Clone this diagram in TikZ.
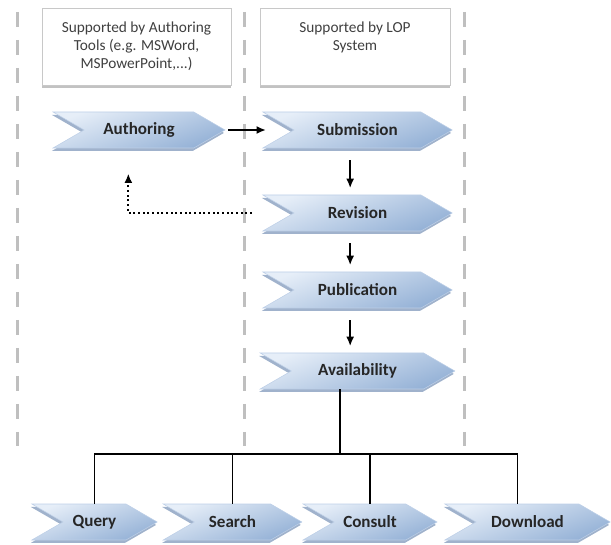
\documentclass[tikz,border=0pt]{standalone}
\usepackage{fontspec}
\setmainfont{Carlito}
\usetikzlibrary{shapes.symbols,shadows,positioning,arrows.meta}
\definecolor{chevlight}{RGB}{230,238,248}
\definecolor{chevdark}{RGB}{148,177,214}
\definecolor{chevshade}{RGB}{120,146,182}
\definecolor{laneline}{RGB}{191,191,191}
\definecolor{boxline}{RGB}{200,200,200}

\begin{document}
\begin{tikzpicture}[x=0.75pt,y=0.75pt,yscale=-1,xscale=1,
  chevron/.style={signal, signal to=east, signal from=west, signal pointer angle=60,
    minimum height=27pt, inner sep=0pt, top color=chevlight, bottom color=chevdark,
    shading angle=20, draw=chevlight!50!chevdark, line width=0.4pt,
    drop shadow={shadow xshift=-0.8pt, shadow yshift=-2.2pt, fill=chevshade, opacity=0.7},
    font=\fontsize{12.8}{15}\selectfont\bfseries, text=black!85},
  toolbox/.style={rectangle, draw=boxline, fill=white, minimum width=141.75pt, minimum height=57.75pt,
    drop shadow={shadow xshift=0pt, shadow yshift=-2.5pt, fill=black!40, opacity=0.6}},
  boxtext/.style={align=center, inner sep=0pt, font=\fontsize{11.5}{13.5}\selectfont, text=black!75},
  lane/.style={draw=laneline, line width=2.25pt, dash pattern=on 11.25pt off 9.75pt},
  flow/.style={-{Latex[length=7pt,width=6pt]}, line width=1.2pt, shorten <=9pt, shorten >=5pt},
  feedback/.style={-{Latex[length=7pt,width=6pt]}, line width=1.5pt, dash pattern=on 1.5pt off 2pt},
  branch/.style={line width=0.8pt}
]
\path[use as bounding box] (0,0) rectangle (611,545);

%Lane Lines
\draw[lane] (17,12) -- (17,446);
\draw[lane] (244,12) -- (244,446);
\draw[lane] (464,12) -- (464,446);

%Top Boxes
\node[toolbox] (toolsbox) at (136.5,46.5) {};
\node[boxtext, below=10.5pt of toolsbox.north] (toolstext) {Supported by Authoring\\Tools (e.g. MSWord,\\MSPowerPoint,...)};
\node[toolbox, minimum width=142.5pt] (lopbox) at (355,46.5) {};
\node[boxtext, below=10.5pt of lopbox.north] (loptext) {Supported by LOP\\System};

%Process Steps
\node[chevron, minimum width=129pt] (authoring) at (139,130) {Authoring};
\node[chevron, minimum width=142pt] (submission) at (357.5,130) {Submission};
\node[chevron, minimum width=142pt] (revision) at (357.5,213) {Revision};
\node[chevron, minimum width=142pt] (publication) at (357.5,290) {Publication};
\node[chevron, minimum width=146pt] (availability) at (357.5,371) {Availability};

%Access Steps
\node[chevron, minimum width=94pt] (query) at (94.5,522) {Query};
\node[chevron, minimum width=104pt] (search) at (232.5,522) {Search};
\node[chevron, minimum width=100.5pt] (consult) at (370,522) {Consult};
\node[chevron, minimum width=124pt] (download) at (527.5,522) {Download};

%Arrows
\draw[flow, shorten <=2pt, shorten >=-3pt] (authoring.east) -- (submission.north west |- authoring.east);
\draw[flow] ([xshift=-5.5pt]submission.south) -- ([xshift=-5.5pt]revision.north);
\draw[flow] ([xshift=-5.5pt]revision.south) -- ([xshift=-5.5pt]publication.north);
\draw[flow] ([xshift=-5.5pt]publication.south) -- ([xshift=-5.5pt]availability.north);
\draw[feedback] ([xshift=-7.5pt]revision.north west |- revision.center) -| ([xshift=-8pt,yshift=19pt]authoring.south);

%Branch Lines
\coordinate (fork) at (340,454);
\draw[branch] (availability.south -| fork) -- (fork);
\draw[branch] (query.north) |- (fork);
\draw[branch] (search.north) |- (fork);
\draw[branch] (consult.north) |- (fork);
\draw[branch] ([xshift=-7.5pt]download.north) |- (fork);

\end{tikzpicture}
\end{document}
